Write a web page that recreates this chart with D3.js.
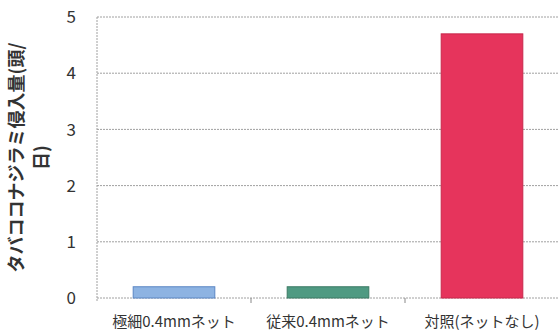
<!doctype html>
<html>
<head>
<meta charset="utf-8">
<script src="https://d3js.org/d3.v7.min.js"></script>
<style>
  body { margin: 0; background: #fff; }
  svg text { font-family: "Noto Sans CJK JP", "Noto Sans", sans-serif; }
</style>
</head>
<body>
<svg id="chart" width="558" height="331"></svg>
<script>
// data
var categories = ["極細0.4mmネット", "従来0.4mmネット", "対照(ネットなし)"];
var values = [0.2, 0.2, 4.7];
var barColors = ["#8db3e2", "#4f9a82", "#e6345c"];
var barStrokes = ["#5b86c4", "#3c7a64", "#c8264a"];
var yTicks = [0, 1, 2, 3, 4, 5];
var yLabelLines = ["タバココナジラミ侵入量(頭/", "日)"];

var svg = d3.select("#chart");
var margin = {left: 97, right: -1, top: 17, bottom: 33};
var W = 558, H = 331;

var x = d3.scaleBand()
  .domain(categories)
  .range([margin.left, W - margin.right])
  .paddingInner(0.47)
  .paddingOuter(0.235);

var y = d3.scaleLinear()
  .domain([0, 5])
  .range([H - margin.bottom, margin.top]);

// gridlines
svg.append("g")
  .selectAll("line")
  .data(yTicks)
  .enter()
  .append("line")
  .attr("x1", margin.left)
  .attr("x2", W)
  .attr("y1", d => y(d))
  .attr("y2", d => y(d))
  .attr("stroke", "#a0a0a0")
  .attr("stroke-width", 1)
  .attr("stroke-dasharray", "2,1");

// y axis line
svg.append("line")
  .attr("x1", margin.left).attr("x2", margin.left)
  .attr("y1", y(5)).attr("y2", y(0) + 4)
  .attr("stroke", "#a0a0a0")
  .attr("stroke-dasharray", "2,1");

// bars
svg.append("g")
  .selectAll("rect")
  .data(values)
  .enter()
  .append("rect")
  .attr("x", (d, i) => x(categories[i]))
  .attr("width", x.bandwidth())
  .attr("y", d => y(d))
  .attr("height", d => y(0) - y(d))
  .attr("fill", (d, i) => barColors[i])
  .attr("stroke", (d, i) => barStrokes[i])
  .attr("stroke-width", 1);

// category separators on x axis
var step = x.step();
svg.append("g")
  .selectAll("line")
  .data(categories.slice(1))
  .enter()
  .append("line")
  .attr("x1", d => x(d) - step * 0.235)
  .attr("x2", d => x(d) - step * 0.235)
  .attr("y1", y(0))
  .attr("y2", y(0) + 5)
  .attr("stroke", "#888");

// y tick labels
svg.append("g")
  .selectAll("text")
  .data(yTicks)
  .enter()
  .append("text")
  .attr("x", 76)
  .attr("y", d => y(d))
  .attr("dy", "0.36em")
  .attr("text-anchor", "end")
  .attr("font-size", 17)
  .attr("fill", "#333")
  .text(d => d);

// x labels
svg.append("g")
  .selectAll("text")
  .data(categories)
  .enter()
  .append("text")
  .attr("x", d => x(d) + x.bandwidth() / 2)
  .attr("y", 327)
  .attr("text-anchor", "middle")
  .attr("font-size", 15)
  .attr("fill", "#333")
  .text(d => d);

// y axis title
var yt = svg.append("text")
  .attr("transform", "translate(23," + ((y(0) + y(5)) / 2) + ") rotate(-90)")
  .attr("text-anchor", "middle")
  .attr("font-size", 18)
  .attr("font-weight", "bold")
  .attr("fill", "#333");
yt.selectAll("tspan")
  .data(yLabelLines)
  .enter()
  .append("tspan")
  .attr("x", 0)
  .attr("dy", (d, i) => i === 0 ? 0 : 25)
  .text(d => d);
</script>
</body>
</html>
